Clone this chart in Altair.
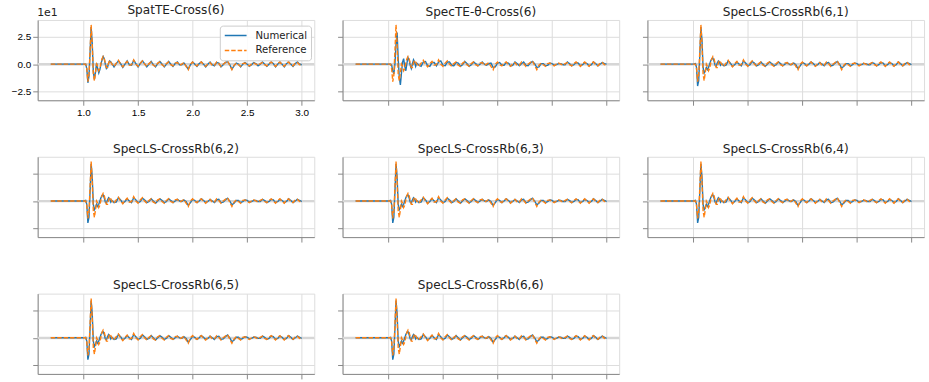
import altair as alt
import pandas as pd

# ---------------- data (values in units of 1e1) ----------------
t_head = [0.70, 1.00, 1.02, 1.03, 1.04, 1.05, 1.06, 1.07, 1.08, 1.09, 1.10, 1.11, 1.12,
          1.13, 1.14, 1.15, 1.16, 1.17, 1.18, 1.19, 1.20, 1.21, 1.22, 1.23, 1.24, 1.25]
t_tail = [1.26, 1.28, 1.30, 1.32, 1.34, 1.36, 1.38, 1.40, 1.42, 1.44,
          1.46, 1.48, 1.50, 1.52, 1.54, 1.56, 1.58, 1.60, 1.62, 1.64,
          1.66, 1.68, 1.70, 1.72, 1.74, 1.76, 1.78, 1.80, 1.82, 1.84,
          1.86, 1.88, 1.90, 1.92, 1.94, 1.96, 1.98, 2.00, 2.02, 2.04,
          2.06, 2.08, 2.10, 2.12, 2.14, 2.16, 2.18, 2.20, 2.22, 2.24,
          2.26, 2.28, 2.30, 2.32, 2.34, 2.36, 2.38, 2.40, 2.42, 2.44,
          2.46, 2.48, 2.50, 2.52, 2.54, 2.56, 2.58, 2.60, 2.62, 2.64,
          2.66, 2.68, 2.70, 2.72, 2.74, 2.76, 2.78, 2.80, 2.82, 2.84,
          2.86, 2.88, 2.90, 2.92, 2.94, 2.96, 2.98, 3.00]
t = t_head + t_tail

ref_head = [0, 0, 0, -0.4, -1.6, -1.0, 1.2, 3.6, 1.8, -0.9, -1.5, -0.8, 0.0,
            -0.2, -0.6, -0.4, 0.1, 0.5, 0.7, 0.5, 0.1, -0.3, -0.3, 0.1, 0.35, 0.2]
ref_tail = [0.0, -0.2, 0.1, 0.35, 0.0, -0.25, 0.05, 0.25, -0.1, -0.05,
            0.4, 0.0, -0.2, 0.1, 0.3, 0.0, -0.2, 0.05, 0.2, -0.1,
            -0.2, 0.1, 0.2, -0.05, -0.2, 0.05, 0.2, -0.05, -0.15, 0.1,
            0.15, -0.1, 0.0, 0.15, -0.2, -0.5, 0.0, 0.2, -0.05, -0.15,
            0.1, 0.2, -0.05, -0.2, 0.05, 0.15, -0.1, -0.1, 0.2, 0.05,
            -0.2, 0.0, 0.15, 0.3, -0.1, -0.5, -0.1, 0.1, -0.05, -0.2,
            0.05, 0.1, -0.05, -0.15, 0.0, 0.1, 0.0, -0.1, 0.05, 0.15,
            -0.05, -0.15, 0.05, 0.2, 0.0, -0.2, 0.05, 0.2, -0.05, -0.2,
            0.1, 0.2, -0.05, -0.15, 0.1, 0.15, -0.05, 0.0]
reference = ref_head + ref_tail

spat_head = [0, 0, 0, -0.4, -1.7, -1.1, 1.0, 3.4, 1.9, -0.7, -1.4, -0.7, 0.1,
             -0.4, -0.8, -0.5, 0.0, 0.4, 0.7, 0.5, 0.0, -0.4, -0.3, 0.1, 0.3, 0.2]
spat_tail = [0.05, -0.25, 0.05, 0.3, 0.05, -0.3, 0.0, 0.3, -0.05, -0.1,
             0.35, 0.05, -0.25, 0.05, 0.3, 0.05, -0.25, 0.0, 0.25, -0.05,
             -0.25, 0.05, 0.25, 0.0, -0.25, 0.0, 0.25, 0.0, -0.2, 0.05,
             0.2, -0.05, -0.05, 0.1, -0.15, -0.45, -0.05, 0.2, 0.0, -0.2,
             0.05, 0.2, 0.0, -0.25, 0.0, 0.2, -0.05, -0.15, 0.15, 0.1,
             -0.25, -0.05, 0.15, 0.25, -0.05, -0.45, -0.15, 0.1, 0.0, -0.25,
             0.0, 0.15, 0.0, -0.2, -0.05, 0.15, 0.05, -0.15, 0.0, 0.2,
             0.0, -0.2, 0.0, 0.2, 0.05, -0.25, 0.0, 0.2, 0.0, -0.25,
             0.05, 0.2, 0.0, -0.2, 0.05, 0.2, 0.0, -0.05]
num_spat = spat_head + spat_tail

theta_head = [0, 0, 0, -0.1, -0.6, -0.9, 0.0, 1.8, 2.9, 0.5, -1.2, -1.9, -0.8,
              0.2, 0.5, -0.2, -0.6, 0.1, 0.6, 0.4, -0.1, -0.4, 0.0, 0.4, 0.2, -0.2]
theta_tail = [0.1, -0.1, -0.2, 0.2, 0.25, -0.15, -0.2, 0.15, 0.15, -0.15,
              0.2, 0.3, -0.1, -0.15, 0.2, 0.2, -0.1, -0.15, 0.15, 0.1,
              -0.2, -0.05, 0.25, 0.05, -0.2, -0.05, 0.2, 0.05, -0.15, 0.0,
              0.2, 0.0, -0.1, 0.05, 0.1, -0.3, -0.25, 0.1, 0.15, -0.1,
              -0.1, 0.15, 0.1, -0.15, -0.1, 0.2, 0.05, -0.15, 0.05, 0.2,
              -0.1, -0.15, 0.1, 0.25, 0.05, -0.3, -0.25, 0.05, 0.05, -0.15,
              -0.1, 0.1, 0.05, -0.1, -0.05, 0.05, 0.05, -0.05, -0.05, 0.2,
              0.05, -0.15, -0.05, 0.15, 0.1, -0.15, -0.05, 0.15, 0.05, -0.15,
              -0.05, 0.2, 0.05, -0.15, 0.0, 0.15, 0.05, 0.0]
num_theta = theta_head + theta_tail

ls_head = [0, 0, 0.05, -0.3, -2.0, -1.5, 0.8, 3.4, 2.2, -0.3, -0.8, -0.6, -0.3,
           -0.5, -0.3, 0.0, 0.3, 0.5, 0.55, 0.3, -0.1, -0.2, 0.1, 0.3, 0.2, -0.1]
ls_tail = [0.05, -0.15, -0.1, 0.3, 0.1, -0.2, -0.05, 0.2, 0.0, -0.15,
           0.3, 0.1, -0.15, -0.05, 0.25, 0.1, -0.15, -0.05, 0.2, 0.0,
           -0.2, 0.0, 0.2, 0.05, -0.15, -0.05, 0.2, 0.05, -0.15, 0.0,
           0.15, 0.0, -0.05, 0.1, -0.05, -0.4, -0.15, 0.15, 0.05, -0.15,
           0.0, 0.2, 0.05, -0.15, -0.05, 0.15, 0.0, -0.15, 0.1, 0.15,
           -0.15, -0.1, 0.1, 0.25, 0.0, -0.35, -0.2, 0.05, 0.05, -0.15,
           -0.05, 0.1, 0.05, -0.1, -0.05, 0.05, 0.05, -0.05, -0.05, 0.15,
           0.05, -0.15, -0.05, 0.15, 0.1, -0.15, -0.05, 0.15, 0.05, -0.15,
           -0.05, 0.2, 0.05, -0.15, 0.0, 0.15, 0.05, -0.05]
num_ls = ls_head + ls_tail

titles = ["SpatTE-Cross(6)", "SpecTE-θ-Cross(6)", "SpecLS-CrossRb(6,1)",
          "SpecLS-CrossRb(6,2)", "SpecLS-CrossRb(6,3)", "SpecLS-CrossRb(6,4)",
          "SpecLS-CrossRb(6,5)", "SpecLS-CrossRb(6,6)"]
numericals = [num_spat, num_theta, num_ls, num_ls, num_ls, num_ls, num_ls, num_ls]
series_names = ["Numerical", "Reference"]
x_ticks = [1.0, 1.5, 2.0, 2.5, 3.0]
y_ticks = [-2.5, 0.0, 2.5]

# ---------------- layout / style ----------------
X_DOM = [0.58, 3.115]
Y_DOM = [-3.3, 4.04]
W, H = 279, 81
FONT = "DejaVu Sans"

for arr in (reference, num_spat, num_theta, num_ls):
    assert len(arr) == len(t)


def make_panel(title, num, first=False):
    n = len(t)
    df = pd.DataFrame({"t": t + t, "v": num + reference,
                       "series": [series_names[0]] * n + [series_names[1]] * n})
    xs = alt.Scale(domain=X_DOM, nice=False, zero=False)
    ys = alt.Scale(domain=Y_DOM, nice=False, zero=False)
    xax = alt.Axis(values=x_ticks, format=".1f", labels=first)
    yargs = dict(values=y_ticks, format=".1f", labels=first)
    if first:
        yargs.update(title="1e1", titleAngle=0, titleX=-1, titleY=-3,
                     titleAlign="left", titleBaseline="bottom",
                     titleFontWeight="normal", titleFontSize=11, titleFont=FONT,
                     titleColor="#222222")
        yenc = alt.Y("v:Q", scale=ys, axis=alt.Axis(**yargs))
    else:
        yenc = alt.Y("v:Q", scale=ys, axis=alt.Axis(**yargs), title=None)
    xenc = alt.X("t:Q", scale=xs, axis=xax, title=None)

    zero = alt.Chart(pd.DataFrame({"t": [X_DOM[0], X_DOM[1]], "v": [0.0, 0.0]})).mark_line(
        color="#d6d6d6", strokeWidth=2.2).encode(x=xenc, y=yenc)

    if first:
        leg = alt.Legend(title=None, orient="none", legendX=183.7, legendY=5.7,
                         direction="vertical", symbolType="M-1,0H3.4", symbolSize=100,
                         symbolStrokeWidth=1.5, labelFontSize=10.2, labelFont=FONT,
                         labelColor="#222222", labelOffset=20, padding=4, rowPadding=3,
                         fillColor="rgba(255,255,255,0.85)", strokeColor="#cccccc",
                         cornerRadius=3)
    else:
        leg = None
    color = alt.Color("series:N", scale=alt.Scale(domain=series_names,
                                                  range=["#1f77b4", "#ff7f0e"]), legend=leg)
    dash = alt.StrokeDash("series:N", scale=alt.Scale(domain=series_names,
                                                      range=[[1, 0], [4.5, 2]]), legend=leg)
    lines = alt.Chart(df).mark_line(strokeWidth=1.4).encode(
        x=xenc, y=yenc, color=color, strokeDash=dash, detail="series:N")
    ttl = alt.TitleParams(text=title, font=FONT, fontSize=12.2, fontWeight="normal",
                          color="#222222", offset=(-10.5 if first else 2),
                          anchor="middle", frame="group")
    return alt.layer(zero, lines).properties(width=W, height=H, title=ttl)


panels = [make_panel(ti, nu, i == 0) for i, (ti, nu) in enumerate(zip(titles, numericals))]

chart = alt.concat(*panels, columns=3, spacing={"row": 57, "column": 28.5},
                   bounds="flush").resolve_scale(
    color="independent", strokeDash="independent").resolve_legend(
    color="independent", strokeDash="independent").properties(
    padding={"left": 10, "top": 1.5, "right": 0, "bottom": 0}
).configure_view(
    stroke="#3c3c3c", strokeWidth=1
).configure_axis(
    domain=False, grid=True, gridColor="#cfcfcf", gridWidth=0.8,
    tickColor="#3c3c3c", tickSize=3.5, tickWidth=0.8,
    labelFont=FONT, labelFontSize=11, labelColor="#222222", labelPadding=2
).configure(background="white")

chart.save("out.html", embed_options={"renderer": "svg", "actions": False})
